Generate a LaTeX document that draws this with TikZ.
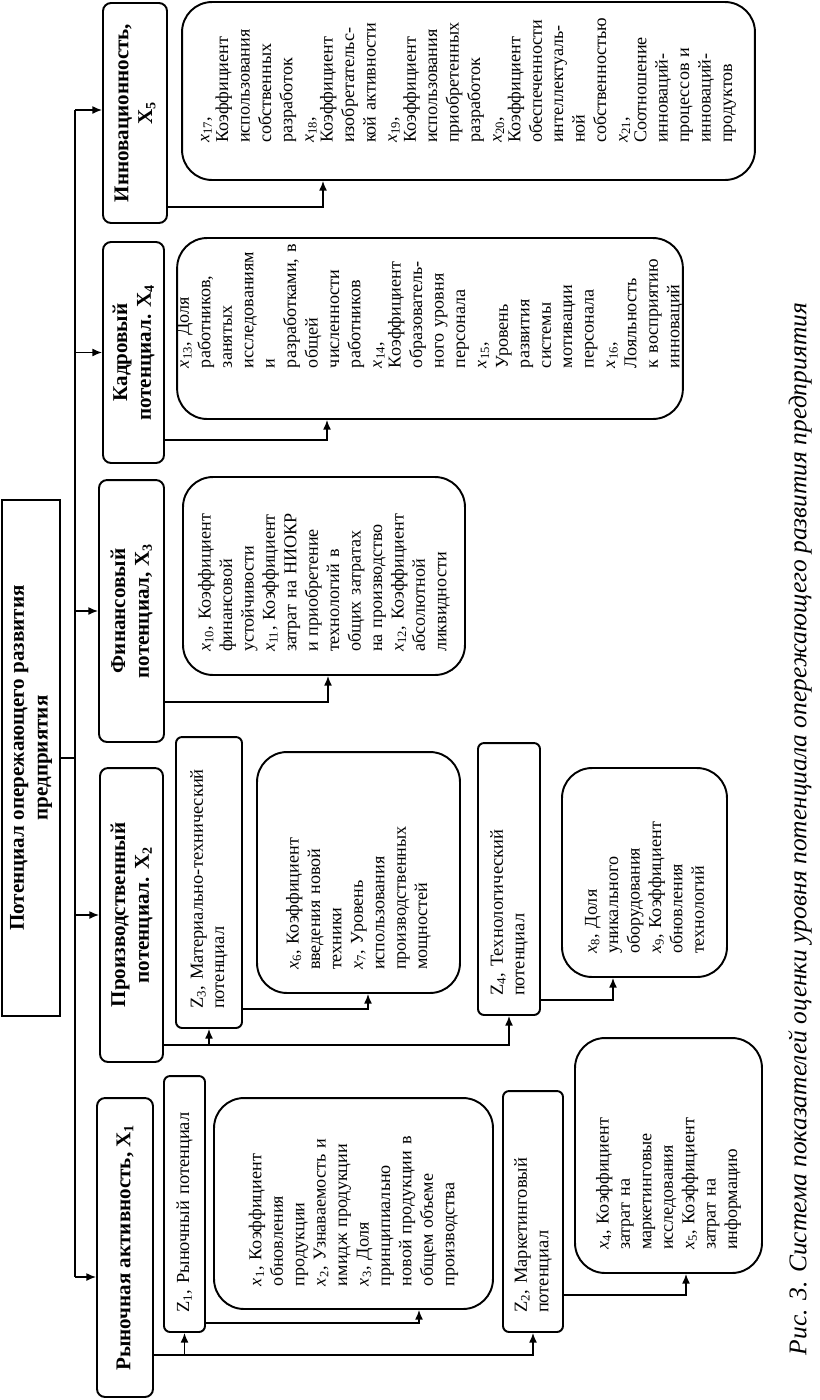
\documentclass[tikz,border=0pt]{standalone}
\usepackage{fontspec}
\setmainfont{Liberation Serif}
\usetikzlibrary{arrows.meta}
\setlength{\parindent}{0pt}
\hyphenpenalty=10000
\exhyphenpenalty=10000
\newcommand{\xs}[1]{\textit{x}\textsubscript{#1}}

\begin{document}
\begin{tikzpicture}[x=0.02cm, y=-0.02cm, >={Latex[length=5.5pt,width=4.5pt]},
		box/.style={draw, line width=1.1pt, rotate=90, inner sep=0pt},
		head/.style={box, rounded corners=0.16cm, align=center, inner xsep=4pt,
				font=\bfseries\fontsize{12}{13.5}\selectfont},
		zbox/.style={box, rounded corners=0.12cm, align=left, inner xsep=0.38cm,
				font=\fontsize{10.5}{12.2}\selectfont},
		xbox/.style={box, rounded corners=0.6cm, align=left, inner xsep=0.46cm,
				font=\fontsize{10.3}{12.2}\selectfont},
		link/.style={line width=0.75pt}]
	\useasboundingbox (0,0) rectangle (819,1400);

	% title and the five groups
	\node[box, line width=1.2pt, align=center, font=\bfseries\fontsize{12}{13.5}\selectfont,
		minimum width=10.32cm, minimum height=1.16cm] (title) at (31,758)
	{Потенциал опережающего развития\\предприятия};

	\node[head, minimum width=5.98cm, minimum height=1.12cm] (h1) at (125,1247.5)
	{Рыночная активность, X\textsubscript{1}};
	\node[head, minimum width=5.88cm, minimum height=1.26cm] (h2) at (131.5,915)
	{Производственный\\потенциал. X\textsubscript{2}};
	\node[head, minimum width=5.24cm, minimum height=1.3cm] (h3) at (131.5,611)
	{Финансовый\\потенциал, X\textsubscript{3}};
	\node[head, minimum width=4.42cm, minimum height=1.22cm] (h4) at (133.5,352.5)
	{Кадровый\\потенциал. X\textsubscript{4}};
	\node[head, minimum width=4.4cm, minimum height=1.28cm] (h5) at (135,113)
	{Инновационность,\\X\textsubscript{5}};

	% sub-potentials
	\node[zbox, text width=4.36cm, minimum width=5.12cm, minimum height=0.82cm] (z1) at (184.5,1204)
	{Z\textsubscript{1}, Рыночный потенциал};
	\node[zbox, text width=4.06cm, minimum width=4.82cm, minimum height=1.2cm] (z2) at (533,1211.5)
	{Z\textsubscript{2}, Маркетинговый\\потенциал};
	\node[zbox, text width=5.06cm, minimum width=5.82cm, minimum height=1.32cm] (z3) at (209,882.5)
	{Z\textsubscript{3}, Материально-технический\\потенциал};
	\node[zbox, text width=4.68cm, minimum width=5.44cm, minimum height=1.24cm] (z4) at (509,879)
	{Z\textsubscript{4}, Технологический\\потенциал};

	% indicators
	\node[xbox, text width=3.3cm, minimum width=4.22cm, minimum height=5.58cm] (b1) at (353.5,1203.5)
	{\xs{1}, Коэффициент\\обновления\\продукции\\\xs{2}, Узнаваемость~и\\имидж~продукции\\\xs{3}, Доля\\принципиально\\новой~продукции~в\\общем~объеме\\производства};
	\node[xbox, text width=3.78cm, minimum width=4.7cm, minimum height=3.74cm] (b2) at (668.5,1155.5)
	{\xs{4}, Коэффициент\\затрат~на\\маркетинговые\\исследования\\\xs{5}, Коэффициент\\затрат~на\\информацию};
	\node[xbox, text width=3.9cm, minimum width=4.82cm, minimum height=4.06cm] (b3) at (358.5,872.5)
	{\xs{6}, Коэффициент\\введения~новой\\техники\\\xs{7}, Уровень\\использования\\производственных\\мощностей};
	\node[xbox, text width=3.26cm, minimum width=4.18cm, minimum height=3.3cm] (b4) at (644.5,872.5)
	{\xs{8}, Доля\\уникального\\оборудования\\\xs{9}, Коэффициент\\обновления\\технологий};
	\node[xbox, text width=3.04cm, minimum width=3.96cm, minimum height=5.64cm] (b5) at (324,576)
	{\xs{10}, Коэффициент\\финансовой\\устойчивости\\\xs{11}, Коэффициент\\затрат~на~НИОКР\\и~приобретение\\технологий~в\\общих~затратах\\на~производство\\\xs{12}, Коэффициент\\абсолютной\\ликвидности};
	\node[xbox, inner xsep=1.02cm, text width=1.58cm, minimum width=3.62cm, minimum height=10.08cm] (b6) at (430,328.5)
	{\xs{13}, Доля\\работников,\\занятых\\исследованиям\\и\\разработками,~в\\общей\\численности\\работников\\\xs{14},\\[-1.5pt]Коэффициент\\образователь-\\ного~уровня\\персонала\\\xs{15}, Уровень\\развития\\системы\\мотивации\\персонала\\\xs{16}, Лояльность\\к~восприятию\\инноваций};
	\node[xbox, inner xsep=0.74cm, text width=2.08cm, minimum width=3.56cm, minimum height=11.46cm] (b7) at (468.5,91)
	{\xs{17},\\[-1.5pt]Коэффициент\\использования\\собственных\\разработок\\\xs{18},\\[-1.5pt]Коэффициент\\изобретательс-\\кой~активности\\\xs{19},\\[-1.5pt]Коэффициент\\использования\\приобретенных\\разработок\\\xs{20},\\[-1.5pt]Коэффициент\\обеспеченности\\интеллектуаль-\\ной\\собственностью\\\xs{21},\\[-1.5pt]Соотношение\\инноваций-\\процессов~и\\инноваций-\\продуктов};

	% bus
	\coordinate (bus top) at (75,110);
	\coordinate (bus bot) at (75,1277);
	\draw[link] (bus top) -- (bus bot);
	\draw[link] (title.south) -- (title.south -| bus top);
	\draw[link,->] (bus top) -- (bus top -| h5.north);
	\draw[link,->] (bus top |- h4.north) -- (h4.north);
	\draw[link,->] (bus top |- h3.north) -- (h3.north);
	\draw[link,->] (bus top |- h2.north) -- (h2.north);
	\draw[link,->] (bus bot) -- (bus bot -| h1.north);

	% first group
	\coordinate (r1) at (0,1355);
	\draw[link,->] (h1.south |- r1) -| (z2.west);
	\draw[link,->] (z1.west |- r1) -- (z1.west);
	\coordinate (k1) at (419,1323);
	\draw[link,->] (z1.south |- k1) -| (b1.west -| k1);
	\coordinate (k2) at (686,1295);
	\draw[link,->] (z2.south |- k2) -| (b2.west -| k2);

	% second group
	\coordinate (r2) at (0,1045);
	\draw[link,->] (h2.south |- r2) -| (z4.west);
	\draw[link,->] (z3.west |- r2) -- (z3.west);
	\coordinate (k3) at (368,1009);
	\draw[link,->] (z3.south |- k3) -| (b3.west -| k3);
	\coordinate (k4) at (613,1000);
	\draw[link,->] (z4.south |- k4) -| (b4.west -| k4);

	% other groups
	\coordinate (k5) at (328,702);
	\draw[link,->] (h3.south |- k5) -| (b5.west -| k5);
	\coordinate (k6) at (327,440);
	\draw[link,->] (h4.south |- k6) -| (b6.west -| k6);
	\coordinate (k7) at (323,207);
	\draw[link,->] (h5.south |- k7) -| (b7.west -| k7);

	\node[rotate=90, font=\itshape\fontsize{14.5}{17}\selectfont] (caption) at (800,829)
	{Рис. 3. Система показателей оценки уровня потенциала опережающего развития предприятия};
\end{tikzpicture}
\end{document}
